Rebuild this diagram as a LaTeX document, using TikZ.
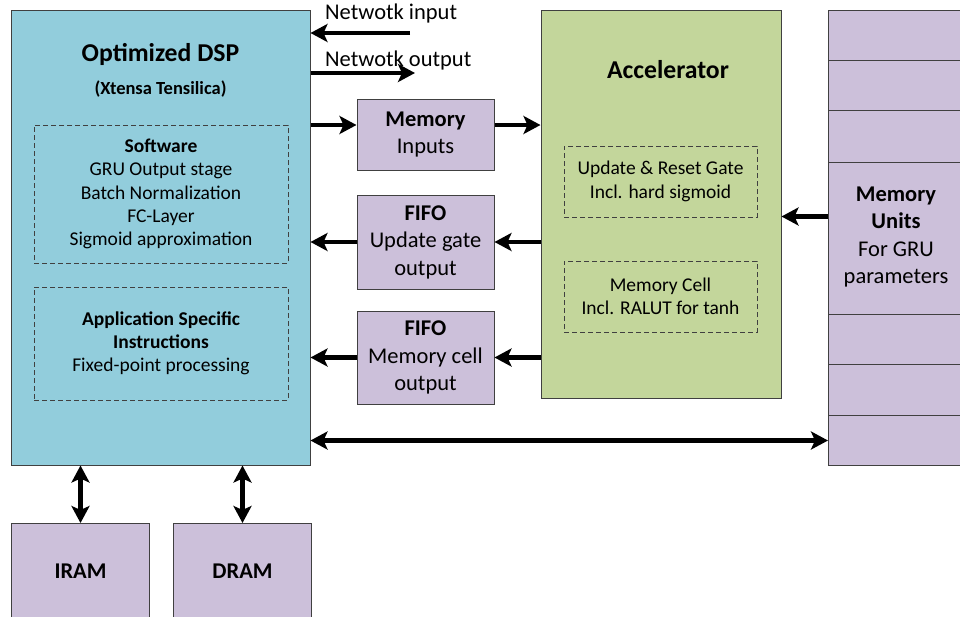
\documentclass[tikz,border=0pt]{standalone}
\usepackage{fontspec}
\setmainfont{Carlito}
\usetikzlibrary{positioning, arrows.meta, calc}
\definecolor{dspblue}{HTML}{92CDDC}
\definecolor{accgreen}{HTML}{C3D69B}
\definecolor{memlilac}{HTML}{CCC0DA}
\definecolor{edgegray}{HTML}{404040}

\begin{document}
\begin{tikzpicture}[
    x=1pt, y=-1pt,
    >={Stealth[length=17pt, width=18pt, inset=4pt]},
    every node/.style={font=\fontsize{22.5}{27.5}\selectfont, align=center, inner sep=0pt},
    block/.style={
        draw=edgegray, line width=1pt, minimum width=#1
    },
    block/.default=137pt,
    subbox/.style={
        draw=edgegray, dashed, dash pattern=on 5pt off 3pt, line width=0.8pt,
        minimum width=#1, font=\fontsize{19.5}{23.3}\selectfont
    },
    title node/.style={font=\bfseries\fontsize{25.7}{30}\selectfont},
    arr/.style={line width=4.5pt, color=black},
]
\useasboundingbox (0,0) rectangle (960,616);

% === Optimized DSP ===
\node[block=299pt, fill=dspblue, minimum height=455pt] (dsp) at (160.5,237.5) {};
\node[title node] (dsptitle) at (160.5,54) {Optimized DSP};
\node[font=\bfseries\fontsize{18.5}{22}\selectfont] (dspsub) at (160.5,89) {(Xtensa Tensilica)};

\node[subbox=254pt, minimum height=138pt] (sw) at (161,194)
    {\textbf{Software}\\GRU Output stage\\Batch Normalization\\FC-Layer\\Sigmoid approximation};
\node[subbox=254pt, minimum height=113pt] (asi) at (161,343.5)
    {\textbf{Application Specific}\\\textbf{Instructions}\\Fixed-point processing};

% === Buffers between DSP and accelerator ===
\node[block, fill=memlilac, minimum height=71pt] (meminp) at (425.5,134.5)
    {\textbf{Memory}\\Inputs};
\node[block, fill=memlilac, minimum height=94pt, below=24pt of meminp] (fifoupd)
    {\textbf{FIFO}\\Update gate\\output};
\node[block, fill=memlilac, minimum height=93pt, below=21pt of fifoupd] (fifomem)
    {\textbf{FIFO}\\Memory cell\\output};

% === Accelerator ===
\node[block=240pt, fill=accgreen, minimum height=388pt] (acc) at (661,204) {};
\node[title node] (acctitle) at (668,70) {Accelerator};
\node[subbox=193pt, minimum height=71pt] (gate) at (660.5,181.5)
    {Update \& Reset Gate\\Incl. hard sigmoid};
\node[subbox=193pt, minimum height=71pt] (cell) at (660.5,296.5)
    {Memory Cell\\Incl. RALUT for tanh};

% === Memory units column ===
\foreach \top/\h [count=\i] in {10/50, 60/50, 110/52, 162/152, 314/50, 364/51, 415/50}
    \node[block=133pt, fill=memlilac, minimum height=\h pt, anchor=north west] (mu\i) at (828,\top) {};
\node (mutext) at (896,237)
    {\textbf{Memory}\\\textbf{Units}\\For GRU\\parameters};

% === IRAM / DRAM ===
\node[block=138pt, fill=memlilac, minimum height=96pt, anchor=north west] (iram) at (11,523)
    {\textbf{IRAM}};
\node[block=138pt, fill=memlilac, minimum height=96pt, right=23pt of iram] (dram)
    {\textbf{DRAM}};

% ===== ARROWS =====

% network in / out
\coordinate (netin) at (410,33);
\coordinate (netout) at (415,73);
\draw[->, arr] (netin) -- (netin -| dsp.east);
\draw[->, arr] (netout -| dsp.east) -- (netout);
\node[anchor=west] (inlbl) at (325,14) {Netwotk input};
\node[anchor=west] (outlbl) at (325,60) {Netwotk output};

% DSP -> Memory inputs -> Accelerator
\draw[->, arr] ([yshift=9.5pt]meminp.west -| dsp.east) -- ([yshift=9.5pt]meminp.west);
\draw[->, arr] ([yshift=9.5pt]meminp.east) -- ([yshift=9.5pt]meminp.east -| acc.west);

% Accelerator -> FIFOs -> DSP
\draw[->, arr] (fifoupd.east -| acc.west) -- (fifoupd.east);
\draw[->, arr] (fifoupd.west) -- (fifoupd.west -| dsp.east);
\draw[->, arr] (fifomem.east -| acc.west) -- (fifomem.east);
\draw[->, arr] (fifomem.west) -- (fifomem.west -| dsp.east);

% Memory units -> Accelerator
\draw[->, arr] ([yshift=22pt]mu4.west) -- ([yshift=22pt]mu4.west -| acc.east);

% DSP <-> Memory units
\draw[<->, arr] (mu7.west -| dsp.east) -- (mu7.west);

% DSP <-> IRAM / DRAM
\draw[<->, arr] (iram.north |- dsp.south) -- (iram.north);
\draw[<->, arr] (dram.north |- dsp.south) -- (dram.north);

\end{tikzpicture}
\end{document}
